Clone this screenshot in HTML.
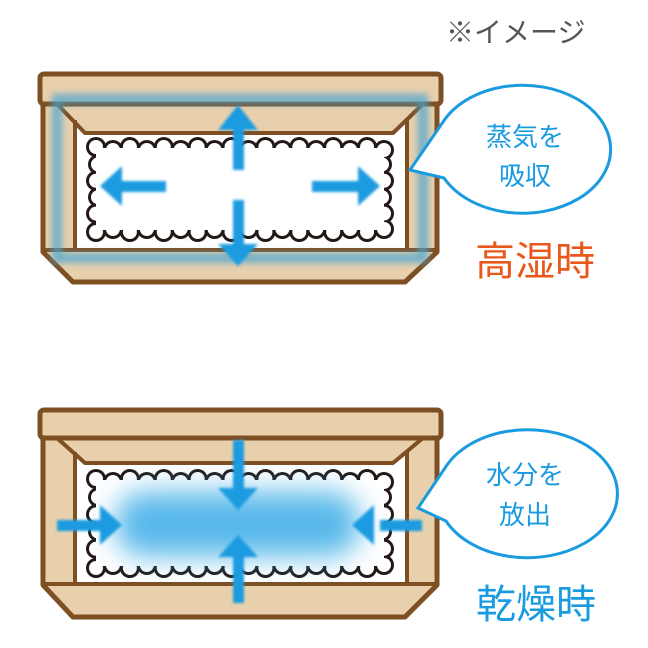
<!DOCTYPE html>
<html><head><meta charset="utf-8"><style>
html,body{margin:0;padding:0;background:#fff;width:648px;height:648px;overflow:hidden}
svg{display:block}
text{font-family:"Liberation Sans","Noto Sans CJK JP",sans-serif}
</style></head><body>
<svg id="s" width="648" height="648" viewBox="0 0 648 648" xmlns="http://www.w3.org/2000/svg">
<defs>
<filter id="b3" x="-20%" y="-20%" width="140%" height="140%"><feGaussianBlur stdDeviation="3.5"/></filter>
<filter id="b1" x="-20%" y="-20%" width="140%" height="140%"><feGaussianBlur stdDeviation="1.2"/></filter>
<filter id="b12" x="-30%" y="-50%" width="160%" height="200%"><feGaussianBlur stdDeviation="14"/></filter>
</defs>
<text x="446" y="42" font-size="28" fill="#555">※イメージ</text>

<!-- TOP BOX -->
<g stroke="#7e4f22" stroke-width="5" stroke-linejoin="round" fill="#e8d0ad">
<path d="M43,100 L437,100 L437,252 L405,282 L73,282 L43,252 Z"/>
<rect x="40" y="74" width="401" height="30" rx="4"/>
</g>
<path d="M75,123 L85,134 L393,134 L407,123 L407,248 L75,248 Z" fill="#fff"/>
<g stroke="#7e4f22" stroke-width="4" fill="none" stroke-linejoin="round">
<path d="M57,104 L85,133 L393,133 L423,104"/>
<path d="M75,120 L75,250 L407,250 L407,120"/>
<path d="M43,250 L437,250"/>
</g>
<g id="cloudTop"></g>
<path d="M57,99 L423,99 L423,258 L57,258 Z" fill="none" stroke="#4aa6d0" stroke-width="10" opacity="0.75" filter="url(#b3)"/>
<g fill="#1a9be0" filter="url(#b1)">
<rect x="233" y="128" width="11" height="42"/><polygon points="238,105 218,130 258,130"/>
<rect x="233" y="200" width="11" height="45"/><polygon points="238,266 218,244 258,244"/>
<rect x="122" y="181" width="44" height="11"/><polygon points="100,186 122,166 122,206"/>
<rect x="312" y="181" width="46" height="11"/><polygon points="380,186 358,166 358,206"/>
</g>
<path d="M443,122 A88,64 0 1 1 444,178 L410,170 Z" fill="#fff" stroke="#1a9be0" stroke-width="3" stroke-linejoin="miter"/>
<text x="525" y="146" font-size="26" fill="#1a9be0" text-anchor="middle">蒸気を</text>
<text x="525" y="185" font-size="26" fill="#1a9be0" text-anchor="middle">吸収</text>
<text x="535" y="275" font-size="40" fill="#e8581c" text-anchor="middle">高湿時</text>

<!-- BOTTOM BOX -->
<g stroke="#7e4f22" stroke-width="5" stroke-linejoin="round" fill="#e8d0ad">
<path d="M43,432 L437,432 L437,585 L405,617 L73,617 L43,585 Z"/>
<rect x="40" y="410" width="401" height="28" rx="4"/>
</g>
<path d="M75,455 L85,463 L393,463 L407,455 L407,583 L75,583 Z" fill="#fff"/>
<g stroke="#7e4f22" stroke-width="4" fill="none" stroke-linejoin="round">
<path d="M57,438 L85,463 L393,463 L423,438"/>
<path d="M75,452 L75,584 L407,584 L407,452"/>
<path d="M43,584 L437,584"/>
</g>
<g id="cloudBot"></g>
<rect x="115" y="492" width="245" height="64" rx="30" fill="#45b0e8" opacity="0.9" filter="url(#b12)"/>
<g fill="#1a9be0" filter="url(#b1)">
<rect x="233" y="440" width="11" height="50"/><polygon points="238,510 218,488 258,488"/>
<rect x="233" y="555" width="11" height="48"/><polygon points="238,535 218,557 258,557"/>
<rect x="57" y="520" width="45" height="11"/><polygon points="122,525 100,505 100,545"/>
<rect x="380" y="520" width="42" height="11"/><polygon points="352,525 374,505 374,545"/>
</g>
<path d="M445,468 A90,64 0 1 1 446,521 L418,508 Z" fill="#fff" stroke="#1a9be0" stroke-width="3"/>
<text x="525" y="484" font-size="26" fill="#1a9be0" text-anchor="middle">水分を</text>
<text x="525" y="524" font-size="26" fill="#1a9be0" text-anchor="middle">放出</text>
<text x="536" y="618" font-size="40" fill="#1a9be0" text-anchor="middle">乾燥時</text>
</svg>
<script>
function cloud(id,x0,y0,x1,y1){
  var g=document.getElementById(id),pts=[],r=9,step=17;
  var nx=Math.round((x1-x0)/step),ny=Math.round((y1-y0)/step);
  var sx=(x1-x0)/nx,sy=(y1-y0)/ny;
  for(var i=0;i<=nx;i++){var x=x0+i*sx;pts.push([x,y0+(i%2?2:-1)]);pts.push([x,y1+(i%2?-1:2)]);}
  for(var j=1;j<ny;j++){var y=y0+j*sy;pts.push([x0+(j%2?2:0),y]);pts.push([x1-(j%2?2:0),y]);}
  var h='';
  pts.forEach(function(p){h+='<circle cx="'+p[0]+'" cy="'+p[1]+'" r="'+(r+1)+'" fill="#231815"/>';});
  pts.forEach(function(p){h+='<circle cx="'+p[0]+'" cy="'+p[1]+'" r="'+(r-2)+'" fill="#fff"/>';});
  h+='<rect x="'+x0+'" y="'+y0+'" width="'+(x1-x0)+'" height="'+(y1-y0)+'" fill="#fff"/>';
  g.innerHTML=h;
}
cloud('cloudTop',96,148,384,230);
cloud('cloudBot',96,480,384,566);
</script>
</body></html>
